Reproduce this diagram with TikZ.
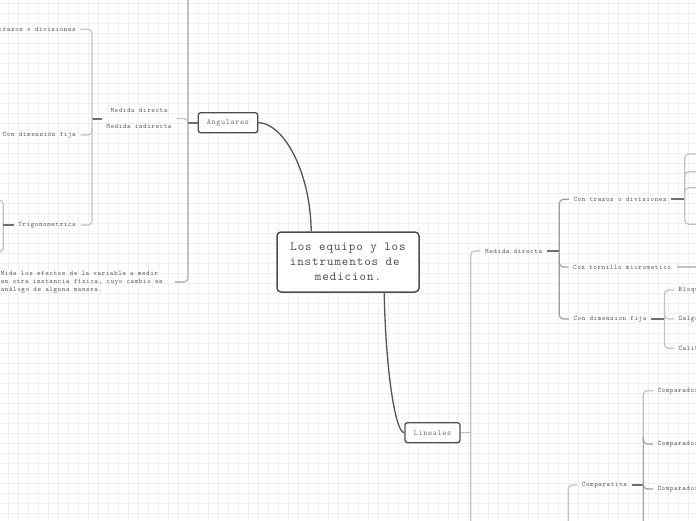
\documentclass[tikz,border=0pt]{standalone}
\usepackage{fontspec}
\newfontfamily\lmm[LetterSpace=7.5]{lmmono10-regular.otf}
\definecolor{gridc}{HTML}{F0F0F0}
\definecolor{txt}{HTML}{4F4F4F}
\definecolor{boxtxt}{HTML}{6E6E6E}
\definecolor{boxc}{HTML}{4A4F55}
\definecolor{brc}{HTML}{C2C2C2}
\definecolor{brd}{HTML}{9E9E9E}
\definecolor{stubc}{HTML}{6E6E6E}
\definecolor{mainc}{HTML}{50565C}
\begin{document}
\begin{tikzpicture}[x=1pt,y=-1pt,
  small/.style={font=\lmm\fontsize{6.9}{8.3}\selectfont, text=txt, inner xsep=4.5pt, inner ysep=1pt},
  topic/.style={draw=boxc, line width=1.3pt, rounded corners=2.5pt, fill=white,
    font=\lmm\fontsize{7.9}{9.5}\selectfont, text=boxtxt, minimum height=20pt, inner sep=0pt},
  central/.style={draw=boxc, line width=1.5pt, rounded corners=4pt, fill=white,
    font=\lmm\fontsize{12.4}{15}\selectfont, text=txt, align=center,
    minimum width=142pt, minimum height=60pt, inner sep=0pt},
  br/.style={draw=brc, line width=1.2pt, rounded corners=4pt},
  brdark/.style={draw=brd, line width=1.2pt, rounded corners=4pt},
  vline/.style={draw=brc, line width=1.7pt, rounded corners=4pt},
  stub/.style={draw=stubc, line width=2pt},
  mainline/.style={draw=mainc, line width=1.3pt}]
\useasboundingbox (0,0) rectangle (696,520);
\fill[white] (0,0) rectangle (696,520);
% grid
\foreach \i in {0,...,69} \draw[gridc, line width=0.6pt] (\i*10+8.3,0) -- (\i*10+8.3,520);
\foreach \j in {0,...,51} \draw[gridc, line width=0.6pt] (0,\j*10+3.3) -- (696,\j*10+3.3);

% ---------- nodes ----------
\node[central] (cen) at (348,262) {Los equipo y los\\instrumentos de\hphantom{x}\\medicion.};
\node[topic, minimum width=59.4pt] (ang) at (228,122.7) {Angulares};
\node[topic, minimum width=55pt] (lin) at (432.5,432.7) {Lineales};

% left side
\node[small, anchor=east] (ctd) at (80.5,29.3) {Con trazos o divisiones};
\node[small, anchor=east] (cdf) at (80.5,135) {Con dimensión fija};
\node[small, anchor=east] (trig) at (80.5,225) {Trigonometrica};
\node[small, align=center, font=\lmm\fontsize{6.9}{16}\selectfont] (mdi) at (139,118.6) {Medida directa\\Medida indirecta};
\node[small, anchor=west, align=left, inner xsep=0pt, font=\lmm\fontsize{6.9}{8}\selectfont] (mide) at (0.6,282)
  {Mide los efectos de la variable a medir\\en otra instancia física, cuyo cambio es\\análogo de alguna manera.};

% right side
\node[small, anchor=west] (mdr) at (480.5,251) {Medida directa};
\node[small, anchor=west] (ctd2) at (568.8,199.3) {Con trazos o divisiones};
\node[small, anchor=west] (ctm) at (568.5,267) {Con tornillo micrometico};
\node[small, anchor=west] (cdf2) at (568.8,319) {Con dimension fija};
\node[small, anchor=west] (bloq) at (673.8,290) {Bloques patron};
\node[small, anchor=west] (galg) at (673.8,319) {Galgas};
\node[small, anchor=west] (cal) at (673.8,348.3) {Calibradores};
\node[small, anchor=west] (comp) at (577.2,485) {Comparativa};
\node[small, anchor=west] (c1) at (652.8,390.7) {Comparador};
\node[small, anchor=west] (c2) at (652.8,444) {Comparador};
\node[small, anchor=west] (c3) at (652.8,489) {Comparador};

\coordinate (topfree) at (188,-6);
\coordinate (linfree) at (470.7,527);
\coordinate (compfree) at (568.3,527);
\coordinate (cmpfree) at (643.3,527);

% ---------- main connectors ----------
\draw[mainline] (ang.east) .. controls +(24,0) and +(-1,-62) .. ([xshift=35pt]cen.north west);
\draw[mainline] ([xshift=108pt]cen.south west) .. controls +(1,68) and +(-10,0) .. (lin.west);

% ---------- left brackets ----------
\draw[vline] (topfree) -- (188,282) -- ([xshift=12pt]mide.east);
\draw[br] (mdi.east) -- (188,118.6) -- (188,128);
\draw[stub] (ang.west) -- (188,122.7);
\draw[stub] (92,118.6) -- (mdi.west);
\draw[br] (ctd.east) -- (92,29.3) -- (92,225) -- (trig.east);
\draw[br] (cdf.east) -- (92,135) -- (92,128);
\draw[br] (-6,200) -- (3.3,200) -- (3.3,251.7) -- (-6,251.7);
\draw[stub] (3.3,225) -- (trig.west);

% ---------- right brackets ----------
\draw[br] (lin.east) -- (470.7,432.7);
\draw[br] (linfree) -- (470.7,251) -- (mdr.west);
\draw[stub] (mdr.east) -- (559.3,251);
\draw[brdark] (ctd2.west) -- (559.3,199.3) -- (559.3,319) -- (cdf2.west);
\draw[brdark] (ctm.west) -- (559.3,267) -- (559.3,260);
\draw[br] ([xshift=1.5pt]ctm.east) -- (700,267);
\draw[stub] (ctd2.east) -- (684.7,199.3);
\draw[br] (700,154) -- (684.7,154) -- (684.7,224.3) -- (700,224.3);
\draw[br] (700,171.7) -- (684.7,171.7) -- (684.7,178);
\draw[br] (700,187.7) -- (684.7,187.7) -- (684.7,194);
\draw[stub] (cdf2.east) -- (664.5,319);
\draw[br] (bloq.west) -- (664.5,290) -- (664.5,348.3) -- (cal.west);
\draw[br] (galg.west) -- (664.5,319) -- (664.5,312);

\draw[br] (comp.west) -- (568.3,485) -- (compfree);
\draw[stub] (comp.east) -- (643.3,485);
\draw[br] (c1.west) -- (643.3,390.7) -- (cmpfree);
\draw[brdark] (643.3,444) -- (cmpfree);
\draw[brdark] (c2.west) -- (643.3,444) -- (643.3,437);
\draw[brdark] (c3.west) -- (643.3,489) -- (643.3,482);
\end{tikzpicture}
\end{document}
